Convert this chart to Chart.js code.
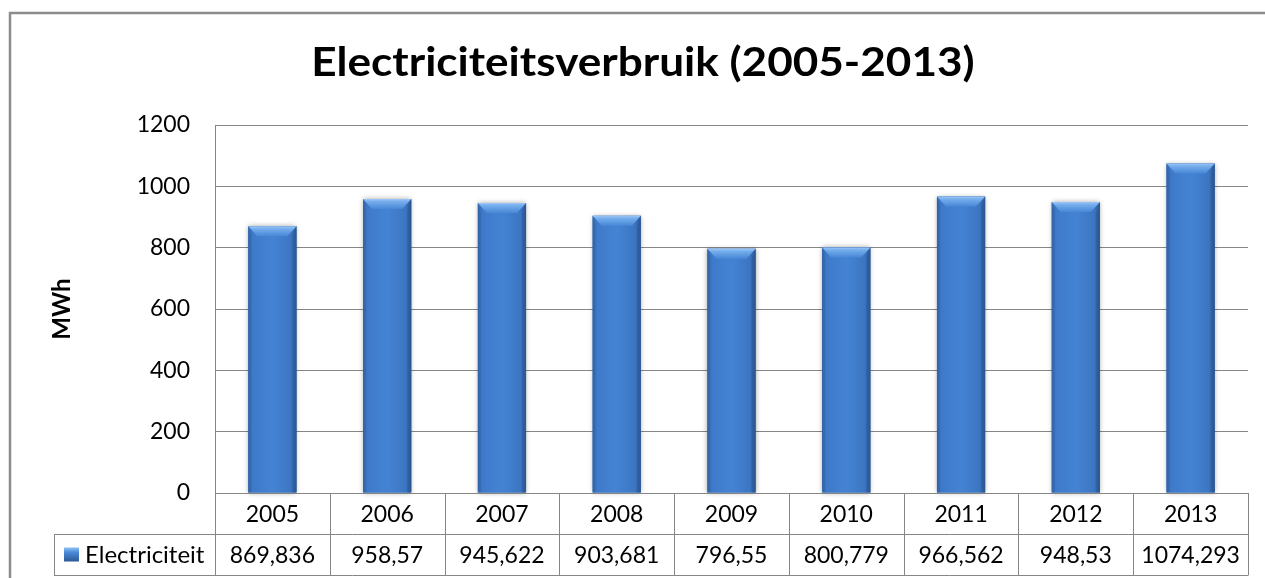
<!DOCTYPE html>
<html>
<head>
<meta charset="utf-8">
<title>Electriciteitsverbruik (2005-2013)</title>
<script src="https://cdn.jsdelivr.net/npm/chart.js@4"></script>
<style>
  html, body { margin: 0; padding: 0; background: #fff; }
  canvas { display: block; }
</style>
</head>
<body>
<canvas id="myChart" width="1265" height="578"></canvas>
<script>
const chartTitle = 'Electriciteitsverbruik (2005-2013)';
const axisTitle = 'MWh';
const seriesLabel = 'Electriciteit';
const years = ['2005', '2006', '2007', '2008', '2009', '2010', '2011', '2012', '2013'];
const verbruik = [869.836, 958.57, 945.622, 903.681, 796.55, 800.779, 966.562, 948.53, 1074.293];
const yMin = 0;
const yMax = 1200;
const yStep = 200;

const lineGray = '#868686';
const fontName = 'Lato';

// Excel style number: decimal comma, no thousands separator
function nlNumber(v) {
    return String(v).replace('.', ',');
}

// outer frame (left and top edge visible) + title
const framePlugin = {
    id: 'frame',
    beforeDraw(chart) {
        const ctx = chart.ctx;
        ctx.save();
        ctx.strokeStyle = '#8c8c8c';
        ctx.lineWidth = 2.5;
        ctx.strokeRect(10, 13, chart.width + 20, chart.height + 20);
        ctx.restore();
    },
    afterDraw(chart) {
        // Calibri in the original is wider than Lato, so stretch a little
        const ctx = chart.ctx;
        ctx.save();
        ctx.translate(643, 76);
        ctx.scale(1.16, 1.05);
        ctx.fillStyle = '#000';
        ctx.font = 'bold 38px ' + fontName;
        ctx.textAlign = 'center';
        ctx.textBaseline = 'alphabetic';
        ctx.fillText(chartTitle, 0, 0);
        ctx.restore();
    }
};

// bevelled bars in the Excel 2007 look
const bevelPlugin = {
    id: 'bevel',
    afterDatasetsDraw(chart) {
        const ctx = chart.ctx;
        const meta = chart.getDatasetMeta(0);
        meta.data.forEach(function(bar) {
            const p = bar.getProps(['x', 'y', 'base', 'width'], true);
            const l = p.x - p.width / 2;
            const r = p.x + p.width / 2;
            const t = p.y;
            const b = p.base;
            const w = r - l;

            ctx.save();
            ctx.shadowColor = 'rgba(0,0,0,0.35)';
            ctx.shadowBlur = 5;
            const g = ctx.createLinearGradient(l, 0, r, 0);
            g.addColorStop(0, '#3469ad');
            g.addColorStop(0.1, '#3f7aca');
            g.addColorStop(0.5, '#4483d4');
            g.addColorStop(0.88, '#3c76c2');
            g.addColorStop(1, '#2c5a96');
            ctx.fillStyle = g;
            ctx.fillRect(l, t, w, b - t);
            ctx.restore();

            // top bevel
            const bh = 10;
            const inset = 9;
            ctx.save();
            const tg = ctx.createLinearGradient(0, t, 0, t + bh);
            tg.addColorStop(0, '#9cc6f5');
            tg.addColorStop(0.25, '#76aeed');
            tg.addColorStop(1, '#4787d6');
            ctx.fillStyle = tg;
            ctx.beginPath();
            ctx.moveTo(l, t);
            ctx.lineTo(r, t);
            ctx.lineTo(r - inset, t + bh);
            ctx.lineTo(l + inset, t + bh);
            ctx.closePath();
            ctx.fill();
            // side bevels
            ctx.fillStyle = 'rgba(40,80,140,0.35)';
            ctx.beginPath();
            ctx.moveTo(r, t);
            ctx.lineTo(r, b);
            ctx.lineTo(r - 4, b);
            ctx.lineTo(r - 4, t + bh);
            ctx.closePath();
            ctx.fill();
            ctx.fillStyle = 'rgba(40,80,140,0.18)';
            ctx.beginPath();
            ctx.moveTo(l, t);
            ctx.lineTo(l, b);
            ctx.lineTo(l + 3, b);
            ctx.lineTo(l + 3, t + bh);
            ctx.closePath();
            ctx.fill();
            ctx.restore();
        });
    }
};

// data table under the plot area
const tablePlugin = {
    id: 'dataTable',
    afterDraw(chart) {
        const ctx = chart.ctx;
        const area = chart.chartArea;
        const xs = chart.scales.x;
        const n = years.length;
        const cw = (area.right - area.left) / n;
        const rowH = 41;
        const y0 = area.bottom;
        const y1 = y0 + rowH;
        const y2 = y1 + rowH;
        const labelLeft = 54;

        ctx.save();
        ctx.strokeStyle = lineGray;
        ctx.lineWidth = 1;
        ctx.beginPath();
        // horizontal rules
        ctx.moveTo(area.left, Math.round(y0) + 0.5);
        ctx.lineTo(area.right, Math.round(y0) + 0.5);
        ctx.moveTo(labelLeft, Math.round(y1) + 0.5);
        ctx.lineTo(area.right, Math.round(y1) + 0.5);
        ctx.moveTo(labelLeft, Math.round(y2) + 0.5);
        ctx.lineTo(area.right, Math.round(y2) + 0.5);
        // vertical rules
        for (let i = 0; i <= n; i++) {
            const x = Math.round(area.left + i * cw) + 0.5;
            ctx.moveTo(x, y0);
            ctx.lineTo(x, y2 + 0.5);
        }
        ctx.moveTo(labelLeft + 0.5, y1);
        ctx.lineTo(labelLeft + 0.5, y2 + 0.5);
        ctx.stroke();

        ctx.fillStyle = '#000';
        ctx.font = '23px ' + fontName;
        ctx.textAlign = 'center';
        ctx.textBaseline = 'middle';
        years.forEach(function(yr, i) {
            const cx = xs.getPixelForValue(i);
            ctx.fillText(yr, cx, y0 + rowH / 2 + 1);
            ctx.fillText(nlNumber(verbruik[i]), cx, y1 + rowH / 2 + 1);
        });

        // legend key + series name
        const ky = y1 + rowH / 2 - 7;
        const kg = ctx.createLinearGradient(0, ky, 0, ky + 14);
        kg.addColorStop(0, '#8fc0f3');
        kg.addColorStop(0.35, '#4a8ad8');
        kg.addColorStop(1, '#2c5a96');
        ctx.fillStyle = kg;
        ctx.fillRect(64, ky, 15, 14);
        ctx.fillStyle = '#000';
        ctx.textAlign = 'left';
        ctx.font = '24px ' + fontName;
        ctx.fillText(seriesLabel, 85, y1 + rowH / 2 + 1);
        ctx.restore();
    }
};

const data = {
    labels: years,
    datasets: [{
        label: seriesLabel,
        data: verbruik,
        backgroundColor: '#4483d4',
        borderWidth: 0,
        barPercentage: 0.42,
        categoryPercentage: 1
    }]
};

const config = {
    type: 'bar',
    data: data,
    options: {
        responsive: false,
        animation: false,
        devicePixelRatio: 1,
        layout: {
            padding: { top: 125, left: 0, right: 17, bottom: 85 }
        },
        plugins: {
            legend: { display: false },
            tooltip: { enabled: false },
            title: { display: false }
        },
        scales: {
            x: {
                display: false
            },
            y: {
                min: yMin,
                max: yMax,
                ticks: {
                    stepSize: yStep,
                    color: '#000',
                    padding: 25,
                    font: { family: fontName, size: 23 },
                    callback: function(value) {
                        return String(value);
                    }
                },
                grid: {
                    color: lineGray,
                    lineWidth: 1,
                    drawTicks: false
                },
                border: { display: true, color: lineGray, width: 1 },
                title: {
                    display: true,
                    text: axisTitle,
                    color: '#000',
                    font: { family: fontName, size: 24, weight: 'bold', lineHeight: 1.2 },
                    padding: { top: 48, bottom: 0 }
                },
                afterFit: function(scale) {
                    scale.width = 215;
                }
            }
        }
    },
    plugins: [framePlugin, bevelPlugin, tablePlugin]
};

const ctx = document.getElementById('myChart').getContext('2d');
new Chart(ctx, config);
</script>
</body>
</html>
